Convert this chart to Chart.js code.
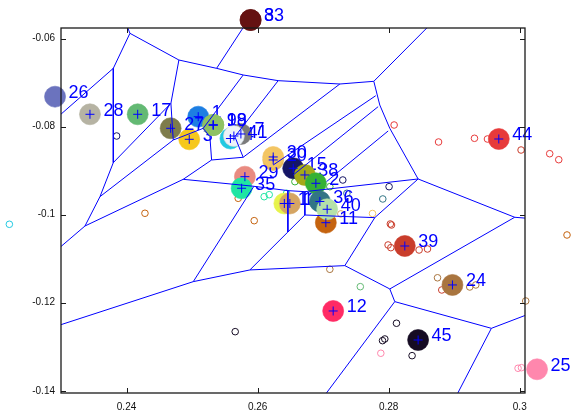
<!DOCTYPE html>
<html><head><meta charset="utf-8">
<script src="https://cdn.jsdelivr.net/npm/chart.js@4/dist/chart.umd.min.js"></script>
<style>html,body{margin:0;padding:0;background:#fff}canvas{display:block}</style>
</head><body>
<canvas id="c" width="571" height="418"></canvas>
<script>
// Axis ticks
const xTicks = [0.24, 0.26, 0.28, 0.30];
const xTickLabels = ['0.24', '0.26', '0.28', '0.3'];
const yTicks = [-0.06, -0.08, -0.10, -0.12, -0.14];
const yTickLabels = ['-0.06', '-0.08', '-0.1', '-0.12', '-0.14'];

// Cluster centres, listed in plotting order
const centreLabels = ['1','3','4','7','8','9','18','19','11','12','13','16','15','38','2','17','20','24','25','26','27','28','29','30','33','35','36','39','40','41','44','45'];
const centreX = [0.25094,0.24957,0.25585,0.25745,0.25893,0.25323,0.25323,0.25323,0.27041,0.27153,0.26408,0.26492,0.26543,0.26721,0.26889,0.24170,0.26238,0.28973,0.30264,0.22909,0.24673,0.23442,0.25806,0.26238,0.25893,0.25756,0.26950,0.28246,0.27061,0.25638,0.29680,0.28449];
const centreY = [-0.07774,-0.08288,-0.08270,-0.08167,-0.05578,-0.07963,-0.07963,-0.07963,-0.10182,-0.12187,-0.09746,-0.09746,-0.08946,-0.09098,-0.09287,-0.07720,-0.08757,-0.11596,-0.13511,-0.07320,-0.08038,-0.07720,-0.09137,-0.08689,-0.05578,-0.09400,-0.09700,-0.10711,-0.09877,-0.08213,-0.08281,-0.12846];

// Individual members (open circles) and the cluster each belongs to
const memberX = [0.23849,0.24281,0.25948,0.26100,0.26177,0.26442,0.26569,0.27102,0.27300,0.27362,0.28006,0.27910,0.27753,0.27270,0.28043,0.28025,0.27991,0.28033,0.28464,0.28592,0.27102,0.27567,0.28745,0.28810,0.29237,0.29329,0.30091,0.28119,0.27906,0.27941,0.27880,0.28357,0.25658,0.28083,0.28761,0.29309,0.29507,0.30020,0.30457,0.30595,0.30721,0.22212,0.29974,0.30026,0.25704];
const memberY = [-0.08213,-0.09968,-0.10136,-0.09591,-0.09546,-0.09514,-0.09250,-0.09364,-0.09212,-0.09514,-0.09364,-0.09643,-0.09973,-0.09982,-0.10234,-0.10211,-0.10688,-0.10749,-0.10802,-0.10779,-0.11240,-0.11635,-0.11433,-0.11710,-0.11642,-0.11596,-0.11960,-0.12466,-0.12861,-0.12823,-0.13147,-0.13202,-0.12657,-0.07963,-0.08349,-0.08265,-0.08281,-0.08531,-0.08615,-0.08751,-0.10461,-0.10218,-0.13488,-0.13475,-0.09628];
const memberOf = ['15','11','11','35','35','35','2','2','15','36','15','36','30','16','39','39','39','39','39','39','24','17','24','39','24','24','24','45','45','45','25','45','45','44','44','44','44','39','44','44','11','4','25','25','11'];

// Cell boundaries, as polylines
const cellEdges = [
  [[0.24001,-0.05692],[0.24052,-0.05881],[0.24799,-0.06487],[0.25374,-0.06676],[0.25780,-0.06827],[0.26314,-0.06956],[0.27255,-0.07032],[0.27773,-0.06971],[0.28627,-0.05692]],
  [[0.25374,-0.06676],[0.25806,-0.05692]],
  [[0.24052,-0.05881],[0.23798,-0.06676],[0.22985,-0.07736]],
  [[0.23798,-0.06676],[0.23798,-0.08818],[0.23595,-0.09590],[0.23366,-0.10257],[0.22985,-0.10741]],
  [[0.23798,-0.08818],[0.24677,-0.07471],[0.24799,-0.06487]],
  [[0.23595,-0.09590],[0.24713,-0.08304],[0.24677,-0.07471]],
  [[0.23366,-0.10257],[0.24865,-0.09197],[0.25298,-0.08758]],
  [[0.24713,-0.08304],[0.25170,-0.08039],[0.25780,-0.06827]],
  [[0.25298,-0.08758],[0.25272,-0.08228],[0.25170,-0.08039]],
  [[0.25298,-0.08758],[0.25780,-0.08696],[0.25653,-0.08228],[0.26314,-0.06956]],
  [[0.24865,-0.09197],[0.25943,-0.09355],[0.26462,-0.09454],[0.26721,-0.09477]],
  [[0.22985,-0.12505],[0.25018,-0.11521],[0.25882,-0.11255],[0.27331,-0.11157]],
  [[0.25018,-0.11521],[0.25943,-0.09355]],
  [[0.25882,-0.11255],[0.26462,-0.10393],[0.26721,-0.10007]],
  [[0.26462,-0.09454],[0.26462,-0.10393]],
  [[0.26721,-0.09477],[0.26721,-0.10007],[0.27788,-0.10067]],
  [[0.27773,-0.06971],[0.27864,-0.07509],[0.28017,-0.08039],[0.28449,-0.09189],[0.29923,-0.10059],[0.30100,-0.10080]],
  [[0.28449,-0.09189],[0.27788,-0.10067],[0.27331,-0.11157],[0.28017,-0.11687],[0.29923,-0.10059]],
  [[0.28017,-0.11687],[0.28093,-0.11975],[0.29567,-0.12581],[0.30100,-0.12278]],
  [[0.29567,-0.12581],[0.29020,-0.14150]],
  [[0.28093,-0.11975],[0.27000,-0.14150]],
  [[0.27255,-0.07032],[0.25780,-0.08696]],
  [[0.27803,-0.07297],[0.26238,-0.08871]],
  [[0.27839,-0.07547],[0.26543,-0.09098]],
  [[0.27992,-0.08099],[0.27051,-0.09250]],
  [[0.28449,-0.09189],[0.26721,-0.09477]]
];

const clusterColours = {
  '33':'#651212','8':'#651212','26':'#6b73be','28':'#b6b3a3','17':'#63b973','1':'#1d7ee2','27':'#7e7c4b','3':'#f6c81c',
  '9':'#8ec164','18':'#8ec164','19':'#8ec164','4':'#22c9e1','7':'#7b7b7b','41':'#eef3f7','30':'#f3c563','20':'#e9ba5a','15':'#151565',
  '38':'#a5a91a','2':'#35b135','29':'#e98b81','35':'#20e5a2','13':'#e7f34c','16':'#d5a563','36':'#327585',
  '40':'#b5e1a9','11':'#c5630f','44':'#e73a3a','39':'#c93d2b','24':'#a9753f','12':'#ff2b65','45':'#150b23','25':'#ff87ad'
};

// Axes limits
const X_MIN = 0.23, X_MAX = 0.3008, Y_MIN = -0.1405, Y_MAX = -0.0576;
// Page margins round the axes box (px)
const W = 571, H = 418, M = {left: 61, right: 46, top: 28, bottom: 25};
const bw = W - M.left - M.right, bh = H - M.top - M.bottom;
const sx = (X_MAX - X_MIN) / bw, sy = (Y_MAX - Y_MIN) / bh;
// the scales span the whole canvas so marks outside the box still show
const xFull = [X_MIN - M.left * sx, X_MAX + M.right * sx];
const yFull = [Y_MIN - M.bottom * sy, Y_MAX + M.top * sy];

const centrePts = centreX.map((x, i) => ({x, y: centreY[i]}));
const memberPts = memberX.map((x, i) => ({x, y: memberY[i]}));

const datasets = [];
datasets.push({
  data: memberPts, order: 1000, showLine: false,
  pointRadius: 3.3, pointHoverRadius: 3.3, pointBorderWidth: 1,
  pointBorderColor: memberOf.map(k => clusterColours[k]),
  pointBackgroundColor: 'rgba(0,0,0,0)'
});
// one dataset per cluster: its disc, then its number on top
centreLabels.forEach((k, n) => {
  datasets.push({
    data: [centrePts[n]], order: 900 - n, showLine: false, tag: k,
    pointRadius: 10.5, pointHoverRadius: 10.5, pointBorderWidth: 0.6,
    pointBackgroundColor: clusterColours[k],
    pointBorderColor: k === '41' ? '#c9d0d6' : clusterColours[k]
  });
});
cellEdges.forEach(edge => datasets.push({
  data: edge.map(p => ({x: p[0], y: p[1]})), order: 3, showLine: true, inBox: true,
  borderColor: '#0000ff', borderWidth: 1, pointRadius: 0, pointHoverRadius: 0, fill: false, tension: 0
}));
datasets.push({
  data: centrePts, order: 1, showLine: false, pointStyle: 'cross', inBox: true,
  pointRadius: 4.5, pointHoverRadius: 4.5, pointBorderWidth: 1, pointBorderColor: '#0000ff'
});

function boxOf(chart) {
  const {x, y} = chart.scales;
  const l = x.getPixelForValue(X_MIN), r = x.getPixelForValue(X_MAX);
  const t = y.getPixelForValue(Y_MAX), b = y.getPixelForValue(Y_MIN);
  return {l, r, t, b};
}

const layers = {
  id: 'layers',
  beforeDatasetDraw(chart, args) {
    if (!chart.data.datasets[args.index].inBox) return;
    const k = boxOf(chart), ctx = chart.ctx;
    ctx.save();
    ctx.beginPath();
    ctx.rect(k.l, k.t, k.r - k.l, k.b - k.t);
    ctx.clip();
  },
  afterDatasetDraw(chart, args) {
    const ds = chart.data.datasets[args.index];
    if (ds.inBox) { chart.ctx.restore(); return; }
    if (!ds.tag) return;
    const {ctx, scales: {x, y}} = chart;
    const p = ds.data[0];
    ctx.save();
    ctx.fillStyle = '#0000ff';
    ctx.font = '18px "Liberation Sans", Arial, sans-serif';
    ctx.textAlign = 'left'; ctx.textBaseline = 'alphabetic';
    ctx.fillText(ds.tag, x.getPixelForValue(p.x) + 13.5, y.getPixelForValue(p.y) + 1.5);
    ctx.restore();
  }
};

const frame = {
  id: 'frame',
  afterDraw(chart) {
    const {ctx, scales: {x, y}} = chart;
    const k = boxOf(chart);
    ctx.save();
    ctx.strokeStyle = '#1a1a1a';
    ctx.lineWidth = 1.3;
    ctx.strokeRect(k.l, k.t, k.r - k.l, k.b - k.t);
    ctx.lineWidth = 1;
    ctx.beginPath();
    xTicks.forEach(v => {
      const px = Math.round(x.getPixelForValue(v)) + 0.5;
      ctx.moveTo(px, k.b); ctx.lineTo(px, k.b - 5);
      ctx.moveTo(px, k.t); ctx.lineTo(px, k.t + 5);
    });
    yTicks.forEach(v => {
      const py = Math.round(y.getPixelForValue(v)) + 0.5;
      ctx.moveTo(k.l, py); ctx.lineTo(k.l + 5, py);
      ctx.moveTo(k.r, py); ctx.lineTo(k.r - 5, py);
    });
    ctx.stroke();
    ctx.fillStyle = '#111';
    ctx.font = '10px "Liberation Sans", Arial, sans-serif';
    ctx.textAlign = 'center'; ctx.textBaseline = 'top';
    xTicks.forEach((v, i) => ctx.fillText(xTickLabels[i], x.getPixelForValue(v), k.b + 9));
    ctx.textAlign = 'right'; ctx.textBaseline = 'middle';
    yTicks.forEach((v, i) => ctx.fillText(yTickLabels[i], k.l - 6, y.getPixelForValue(v)));
    ctx.restore();
  }
};

new Chart(document.getElementById('c'), {
  type: 'scatter',
  data: {datasets},
  options: {
    responsive: false, animation: false, devicePixelRatio: 1,
    layout: {padding: 0, autoPadding: false},
    plugins: {legend: {display: false}, tooltip: {enabled: false}},
    scales: {
      x: {type: 'linear', display: false, min: xFull[0], max: xFull[1]},
      y: {type: 'linear', display: false, min: yFull[0], max: yFull[1]}
    }
  },
  plugins: [layers, frame]
});
</script>
</body></html>
